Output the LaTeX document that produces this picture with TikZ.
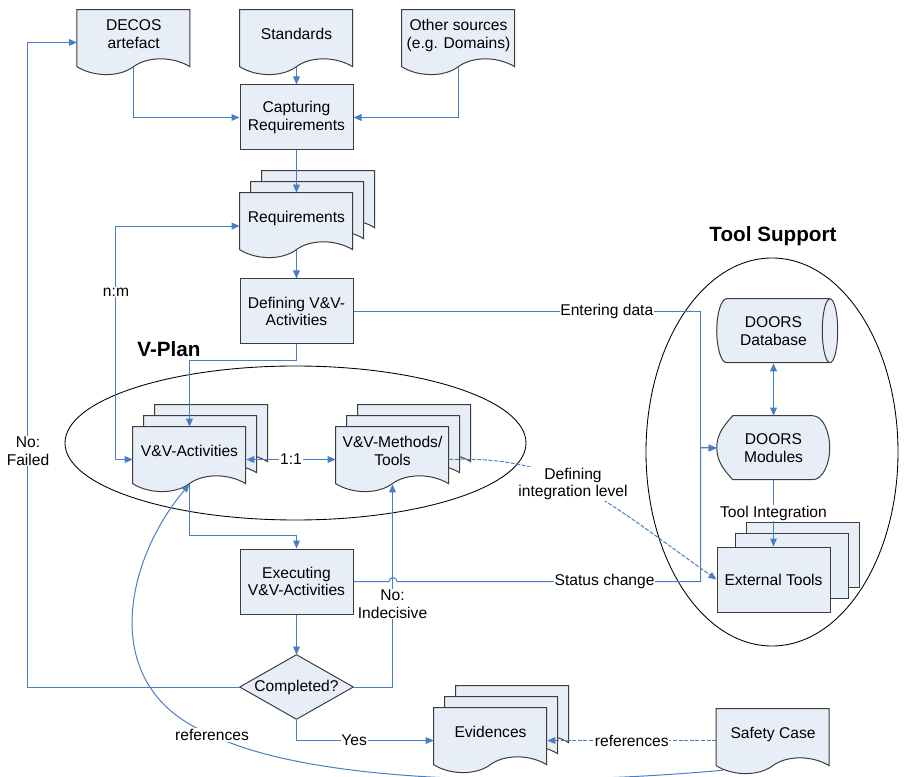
\documentclass[tikz,border=0pt]{standalone}
\usepackage{fontspec}
\setmainfont{Liberation Sans}
\usetikzlibrary{arrows.meta}
\pgfdeclarelayer{background}
\pgfsetlayers{background,main}
\definecolor{pagefill}{RGB}{232,238,247}
\definecolor{linkblue}{RGB}{74,126,196}
\definecolor{edge}{RGB}{60,60,60}

% one sheet of a document symbol behind node #1, moved by #2/#3
\newcommand{\docpage}[3]{%
  \filldraw[page] ([xshift=#2,yshift=#3]#1.north west) -- ++(113,0) -- ++(0,57)
    .. controls +(-17,-10.5) and +(14,-10.5) .. ++(-56.5,0)
    .. controls +(-14,10.5) and +(17,10.5) .. ++(-56.5,0) -- cycle;}
% three sheets
\newcommand{\docstack}[1]{%
  \docpage{#1}{16.5pt}{16.5pt}\docpage{#1}{8.25pt}{8.25pt}\docpage{#1}{0pt}{0pt}}

\begin{document}
\begin{tikzpicture}[x=0.75pt,y=-0.75pt,>={Triangle[length=6pt,width=5pt]},
  font=\fontsize{11.7}{13.3}\selectfont,
  page/.style={draw=edge,fill=pagefill,line width=0.75pt},
  doc/.style={minimum width=84.75pt,minimum height=42.75pt,inner sep=0pt,align=center,text depth=7pt},
  box/.style={draw=edge,fill=pagefill,line width=0.75pt,minimum width=84.75pt,minimum height=48.75pt,inner sep=0pt,align=center},
  symb/.style={minimum width=84.75pt,minimum height=48pt,inner sep=0pt,align=center},
  conn/.style={draw=linkblue,line width=0.75pt},
  refline/.style={conn,dash pattern=on 3pt off 1.2pt},
  lbl/.style={fill=white,inner sep=0.6pt,align=center},
  title/.style={font=\fontsize{15.5}{18}\selectfont\bfseries}]
  \useasboundingbox (0,0) rectangle (904,777);

  % the two groups
  \draw[line width=0.65pt] (295.5,443) ellipse [x radius=230.5, y radius=77];
  \draw[line width=0.65pt] (772,452) ellipse [x radius=126, y radius=194];
  \node[title] (vplan) at (169,349) {V-Plan};
  \node[title] (tools) at (773,236) {Tool Support};

  % inputs and process
  \node[doc] (decos) at (133.75,38.5) {DECOS\\artefact};
  \node[doc] (std) at (296.5,38.5) {Standards};
  \node[doc] (other) at (458.5,38.5) {Other sources\\(e.g. Domains)};
  \node[box] (cap) at (296.5,117.5) {Capturing\\Requirements};
  \node[doc] (req) at (296.5,221.5) {Requirements};
  \node[box] (def) at (296.5,311.5) {Defining V\&V-\\Activities};
  \node[doc] (act) at (189.5,455.5) {V\&V-Activities};
  \node[doc] (meth) at (392.5,455.5) {V\&V-Methods/\\Tools};
  \node[box] (exe) at (296.5,581.5) {Executing\\V\&V-Activities};
  \node[symb] (comp) at (296.5,687) {Completed?};
  \node[doc] (evid) at (490.5,736.5) {Evidences};
  \node[doc] (saf) at (773,737.5) {Safety Case};

  % tool side
  \node[symb] (db) at (773.5,331) {DOORS\\Database};
  \node[symb] (mod) at (773.5,448) {DOORS\\Modules};
  \node[box] (ext) at (773.5,579.5) {External Tools};

  \begin{pgfonlayer}{background}
    \docpage{decos}{0pt}{0pt}
    \docpage{std}{0pt}{0pt}
    \docpage{other}{0pt}{0pt}
    \docstack{req}
    \docstack{act}
    \docstack{meth}
    \docstack{evid}
    \docpage{saf}{0pt}{0pt}
    \filldraw[page] ([xshift=22.5pt,yshift=18pt]ext.north west) rectangle ++(113,65);
    \filldraw[page] ([xshift=14.25pt,yshift=9.75pt]ext.north west) rectangle ++(113,65);
    \filldraw[page] (comp.north) -- (comp.east) -- (comp.south) -- (comp.west) -- cycle;
    % database drum
    \filldraw[page] ([xshift=7.5pt]db.north west) -- ++(103,0)
      .. controls +(5,0) and +(0,-16) .. ++(8,32)
      .. controls +(0,16) and +(5,0) .. ++(-8,32) -- ++(-103,0)
      .. controls +(-6,0) and +(0,16) .. ++(-10,-32)
      .. controls +(0,-16) and +(-6,0) .. ++(10,-32) -- cycle;
    \draw[page,fill=none] (db.north east) .. controls +(-5,0) and +(0,-16) .. ++(-8,32)
      .. controls +(0,16) and +(-5,0) .. ++(8,32);
    % display symbol
    \filldraw[page] ([xshift=12pt]mod.north west) -- ++(80,0)
      .. controls +(10,0) and +(0,-16) .. ++(17,32)
      .. controls +(0,16) and +(10,0) .. ++(-17,32) -- ++(-80,0)
      .. controls +(-8,-9) and +(0,14) .. ++(-16,-32)
      .. controls +(0,-14) and +(-8,9) .. ++(16,-32) -- cycle;
  \end{pgfonlayer}

  % connectors
  \draw[conn,->] (decos.south) |- (cap.west);
  \draw[conn,->] (std.south) -- (cap.north);
  \draw[conn,->] (other.south) |- (cap.east);
  \draw[conn,->] (cap.south) -- (req.north);
  \draw[conn,->] (req.south) -- (def.north);
  \draw[conn,<->] ([yshift=-3.4pt]req.west) -- ++(-124,0) |- ([yshift=-3pt]act.west);
  \node[lbl] (nm) at (116,292) {n:m};
  \draw[conn,->] (def.south) -- ++(0,16) -| (act.north);
  \draw[conn,<->] ([yshift=-3pt]act.east) -- node[lbl]{1:1} ([yshift=-3pt]meth.west);
  \draw[conn,->] (act.south) -- ++(0,51) -| (exe.north);
  \draw[conn,->] (exe.south) -- (comp.north);
  \draw[conn,->] (comp.west) -- ++(-212,0) |- ([yshift=-3pt]decos.west);
  \node[lbl] (failed) at (28,451) {No:\\Failed};
  \draw[conn,->] (comp.east) -| (meth.south);
  \node[lbl] (indec) at (392.5,604) {No:\\Indecisive};
  \draw[conn,->] (comp.south) |- node[lbl,pos=0.71]{Yes} ([yshift=-3pt]evid.west);
  \draw[conn,->] (def.east) -- node[lbl,pos=0.73]{Entering data} ++(347,0) |- (mod.west);
  \draw[conn,->] (exe.east) -- ++(35.5,0) arc[start angle=180,end angle=360,radius=4]
    -- node[lbl,pos=0.684]{Status change} ++(303.5,0) |- (mod.west);
  \draw[conn,<->] (db.south) -- (mod.north);
  \draw[conn,->] (mod.south) -- node[lbl]{Tool Integration} (ext.north);
  \draw[refline,->] ([yshift=-3pt]meth.east) .. controls +(110,-4) and +(-117,-83) .. (ext.west);
  \node[lbl] (intlvl) at (573,484) {Defining\\integration level};
  \draw[refline,->] ([yshift=-2.25pt]saf.west) -- node[lbl]{references} ([yshift=-3pt]evid.east);
  \draw[conn,->] ([xshift=4.9pt,yshift=-3pt]saf.south west) .. controls (500,790) and (300,778) .. (212,735)
    .. controls (95,689) and (125,560) .. (act.south);
  \node[lbl] (refs) at (212,735) {references};
\end{tikzpicture}
\end{document}
